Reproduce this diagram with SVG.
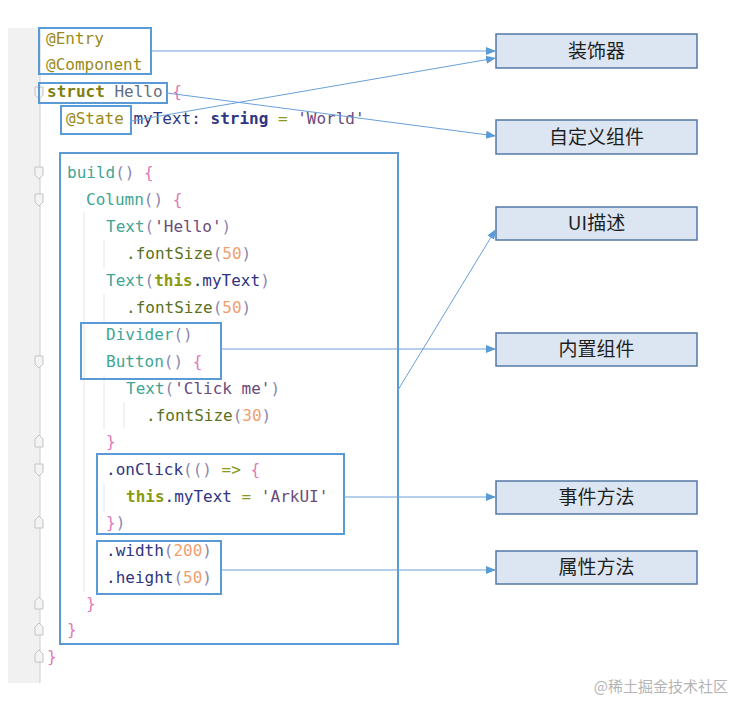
<svg xmlns="http://www.w3.org/2000/svg" width="734" height="701" viewBox="0 0 734 701">
<style>
.code{font-family:"DejaVu Sans Mono","Liberation Mono",monospace;font-size:16px;}
.cbox{fill:none;stroke:#5b9bd5;stroke-width:2;}
.lbox{fill:#dce6f2;stroke:#5677a6;stroke-width:1.5;}
.lbl{font-family:"Noto Sans CJK SC","Noto Sans",sans-serif;font-size:19px;fill:#1e1e1e;text-anchor:middle;}
.conn{stroke:#6a9fd8;stroke-width:1;fill:none;marker-end:url(#ah);}
.ann{fill:#9a8a1a;}
.kw{fill:#7f7f10;font-weight:bold;}
.id{fill:#5f6e7e;}
.br{fill:#e07ab8;}
.nv{fill:#2f3580;}
.str{fill:#6a4a7a;}
.fn{fill:#3fa595;}
.pa{fill:#8a88b0;}
.mt{fill:#5a7020;}
.num{fill:#f0a070;}
.op{fill:#8a9a20;}
.fold{fill:#f4f4f4;stroke:#c4c4c4;stroke-width:1;}
.guide{stroke:#e6e6e6;stroke-width:1;}
</style>
<defs>
<marker id="ah" markerWidth="10" markerHeight="10" refX="10" refY="5" orient="auto" markerUnits="userSpaceOnUse">
<path d="M0,1 L10,5 L0,9 Z" fill="#5b9bd5"/>
</marker>
</defs>
<rect width="734" height="701" fill="#ffffff"/>
<g id="gutter">
<rect x="8" y="28" width="32" height="655" fill="#f1f1f1"/>
<line x1="40" y1="28" x2="40" y2="683" stroke="#cfcfcf" stroke-width="1"/>
<line class="guide" x1="84" y1="212" x2="84" y2="592"/>
<line class="guide" x1="104" y1="240" x2="104" y2="268"/>
<line class="guide" x1="104" y1="294" x2="104" y2="322"/>
<line class="guide" x1="104" y1="375" x2="104" y2="430"/>
<line class="guide" x1="124" y1="402" x2="124" y2="428"/>
<line class="guide" x1="104" y1="484" x2="104" y2="512"/>
<path class="fold" d="M35,87 h8 v8 l-4,4 l-4,-4 Z"/>
<path class="fold" d="M35,167 h8 v8 l-4,4 l-4,-4 Z"/>
<path class="fold" d="M35,194 h8 v8 l-4,4 l-4,-4 Z"/>
<path class="fold" d="M35,356 h8 v8 l-4,4 l-4,-4 Z"/>
<path class="fold" d="M35,447 h8 v-8 l-4,-4 l-4,4 Z"/>
<path class="fold" d="M35,464 h8 v8 l-4,4 l-4,-4 Z"/>
<path class="fold" d="M35,528 h8 v-8 l-4,-4 l-4,4 Z"/>
<path class="fold" d="M35,609 h8 v-8 l-4,-4 l-4,4 Z"/>
<path class="fold" d="M35,635 h8 v-8 l-4,-4 l-4,4 Z"/>
<path class="fold" d="M35,662 h8 v-8 l-4,-4 l-4,4 Z"/>
</g>
<g id="code" class="code">
<text x="46" y="44" class="ann">@Entry</text>
<text x="46" y="70" class="ann">@Component</text>
<text x="47" y="97"><tspan class="kw">struct</tspan><tspan class="id"> Hello </tspan><tspan class="br">{</tspan></text>
<text x="66" y="124"><tspan class="ann">@State</tspan><tspan class="nv"> myText: </tspan><tspan class="nv" font-weight="bold">string</tspan><tspan class="op"> = </tspan><tspan class="str">'World'</tspan></text>
<text x="67" y="178"><tspan class="fn">build</tspan><tspan class="pa">() </tspan><tspan class="br">{</tspan></text>
<text x="86" y="205"><tspan class="fn">Column</tspan><tspan class="pa">() </tspan><tspan class="br">{</tspan></text>
<text x="106" y="232"><tspan class="fn">Text</tspan><tspan class="pa">(</tspan><tspan class="str">'Hello'</tspan><tspan class="pa">)</tspan></text>
<text x="126" y="259"><tspan class="mt">.fontSize</tspan><tspan class="pa">(</tspan><tspan class="num">50</tspan><tspan class="pa">)</tspan></text>
<text x="106" y="286"><tspan class="fn">Text</tspan><tspan class="pa">(</tspan><tspan class="kw" style="fill:#8a9a10">this</tspan><tspan class="nv">.myText</tspan><tspan class="pa">)</tspan></text>
<text x="126" y="313"><tspan class="mt">.fontSize</tspan><tspan class="pa">(</tspan><tspan class="num">50</tspan><tspan class="pa">)</tspan></text>
<text x="106" y="340"><tspan class="fn">Divider</tspan><tspan class="pa">()</tspan></text>
<text x="106" y="367"><tspan class="fn">Button</tspan><tspan class="pa">() </tspan><tspan class="br">{</tspan></text>
<text x="126" y="394"><tspan class="fn">Text</tspan><tspan class="pa">(</tspan><tspan class="str">'Click me'</tspan><tspan class="pa">)</tspan></text>
<text x="146" y="421"><tspan class="mt">.fontSize</tspan><tspan class="pa">(</tspan><tspan class="num">30</tspan><tspan class="pa">)</tspan></text>
<text x="106" y="447" class="br">}</text>
<text x="106" y="475"><tspan class="nv">.onClick</tspan><tspan class="pa">(() </tspan><tspan class="op">=&gt; </tspan><tspan class="br">{</tspan></text>
<text x="126" y="502"><tspan class="kw" style="fill:#8a9a10">this</tspan><tspan class="nv">.myText </tspan><tspan class="op">= </tspan><tspan class="str">'ArkUI'</tspan></text>
<text x="106" y="528"><tspan class="br">}</tspan><tspan class="pa">)</tspan></text>
<text x="106" y="556"><tspan class="nv">.width</tspan><tspan class="pa">(</tspan><tspan class="num">200</tspan><tspan class="pa">)</tspan></text>
<text x="106" y="583"><tspan class="nv">.height</tspan><tspan class="pa">(</tspan><tspan class="num">50</tspan><tspan class="pa">)</tspan></text>
<text x="86" y="609" class="br">}</text>
<text x="67" y="635" class="br">}</text>
<text x="47" y="662" class="br">}</text>
</g>
<g id="box-decorators"><rect class="cbox" x="39" y="28" width="112" height="46"/></g>
<g id="box-struct"><rect class="cbox" x="39" y="83" width="128" height="20"/></g>
<g id="box-state"><rect class="cbox" x="61" y="106" width="70" height="28"/></g>
<g id="box-build"><rect class="cbox" x="60" y="153" width="338" height="491"/></g>
<g id="box-builtin"><rect class="cbox" x="81" y="323" width="140" height="56"/></g>
<g id="box-onclick"><rect class="cbox" x="97" y="454" width="247" height="80"/></g>
<g id="box-attrs"><rect class="cbox" x="97" y="541" width="124" height="53"/></g>
<g id="label-decorator"><rect class="lbox" x="496" y="34" width="201" height="34"/><text class="lbl" x="596.5" y="58">装饰器</text></g>
<g id="label-custom"><rect class="lbox" x="496" y="120" width="201" height="34"/><text class="lbl" x="596.5" y="144">自定义组件</text></g>
<g id="label-ui"><rect class="lbox" x="496" y="207" width="201" height="33"/><text class="lbl" x="596.5" y="230">UI描述</text></g>
<g id="label-builtin"><rect class="lbox" x="496" y="333" width="201" height="33"/><text class="lbl" x="596.5" y="356">内置组件</text></g>
<g id="label-event"><rect class="lbox" x="496" y="481" width="201" height="33"/><text class="lbl" x="596.5" y="504">事件方法</text></g>
<g id="label-attr"><rect class="lbox" x="496" y="551" width="201" height="33"/><text class="lbl" x="596.5" y="574">属性方法</text></g>
<g id="connectors">
<line class="conn" x1="151" y1="51" x2="496" y2="51"/>
<line class="conn" x1="131" y1="121" x2="496" y2="58"/>
<line class="conn" x1="167" y1="93" x2="496" y2="136"/>
<line class="conn" x1="398" y1="390" x2="496" y2="229"/>
<line class="conn" x1="221" y1="349" x2="496" y2="349"/>
<line class="conn" x1="344" y1="497" x2="496" y2="497"/>
<line class="conn" x1="221" y1="570" x2="496" y2="570"/>
</g>
<text x="728" y="692" text-anchor="end" font-family="Noto Sans CJK SC, sans-serif" font-size="15" fill="#b4b4b4">@稀土掘金技术社区</text>
</svg>
